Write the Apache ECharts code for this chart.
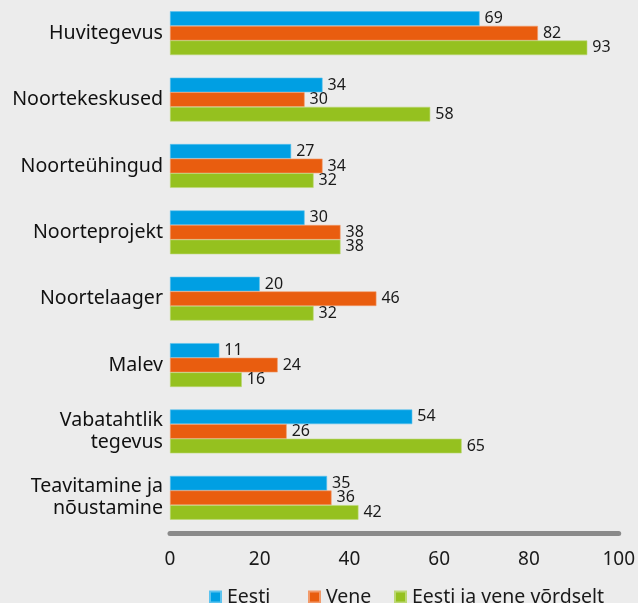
<!DOCTYPE html>
<html><head><meta charset="utf-8">
<script src="https://cdn.jsdelivr.net/npm/echarts@6/dist/echarts.min.js"></script>
<style>html,body{margin:0;padding:0;background:#ececec}#c{width:638px;height:603px}</style>
</head><body><div id="c"></div>
<script>
const categories = ["Huvitegevus","Noortekeskused","Noorteühingud","Noorteprojekt","Noortelaager","Malev","Vabatahtlik\ntegevus","Teavitamine ja\nnõustamine"];
const seriesNames = ["Eesti","Vene","Eesti ja vene võrdselt"];
const eesti = [69,34,27,30,20,11,54,35];
const vene = [82,30,34,38,46,24,26,36];
const vordselt = [93,58,32,38,32,16,65,42];
const xTicks = [0,20,40,60,80,100];
const colors = ["#009fe3","#e95d0f","#95c11f"];
const borders = ["#5cc3ef","#f29a6a","#bcd874"];
const legendLeft = [204,303,389];
const font = "Noto Sans";
const chart = echarts.init(document.getElementById('c'), null, {renderer:'canvas'});
const data = [eesti, vene, vordselt];
chart.setOption({
  backgroundColor:'#ececec',
  animation:false,
  textStyle:{fontFamily:font},
  grid:{left:170,right:12,top:-3,bottom:72,containLabel:false},
  legend:seriesNames.map((n,i)=>({top:582,left:legendLeft[i],itemWidth:11,itemHeight:11,icon:'rect',
    textStyle:{fontSize:19.5,color:'#1a1a1a',fontFamily:font,padding:[0,0,0,1]},
    data:[n]})),
  xAxis:{type:'value',min:xTicks[0],max:xTicks[xTicks.length-1],interval:20,offset:2,
    axisLine:{show:true,lineStyle:{color:'#8a8a8a',width:5}},
    axisTick:{show:false},splitLine:{show:false},
    axisLabel:{fontSize:19,color:'#1a1a1a',margin:17,fontFamily:font}},
  yAxis:{type:'category',data:categories,inverse:true,
    axisLine:{show:false},axisTick:{show:false},
    axisLabel:{fontSize:19.6,color:'#111',margin:7,lineHeight:22,align:'right',fontFamily:font}},
  series:data.map((d,i)=>({
    name:seriesNames[i],type:'bar',data:d,barGap:'0%',barCategoryGap:'34%',
    itemStyle:{color:colors[i],borderColor:borders[i],borderWidth:0.6},
    label:{show:true,position:'right',distance:5,fontSize:16,color:'#1a1a1a',fontFamily:font}
  }))
});
</script></body></html>
